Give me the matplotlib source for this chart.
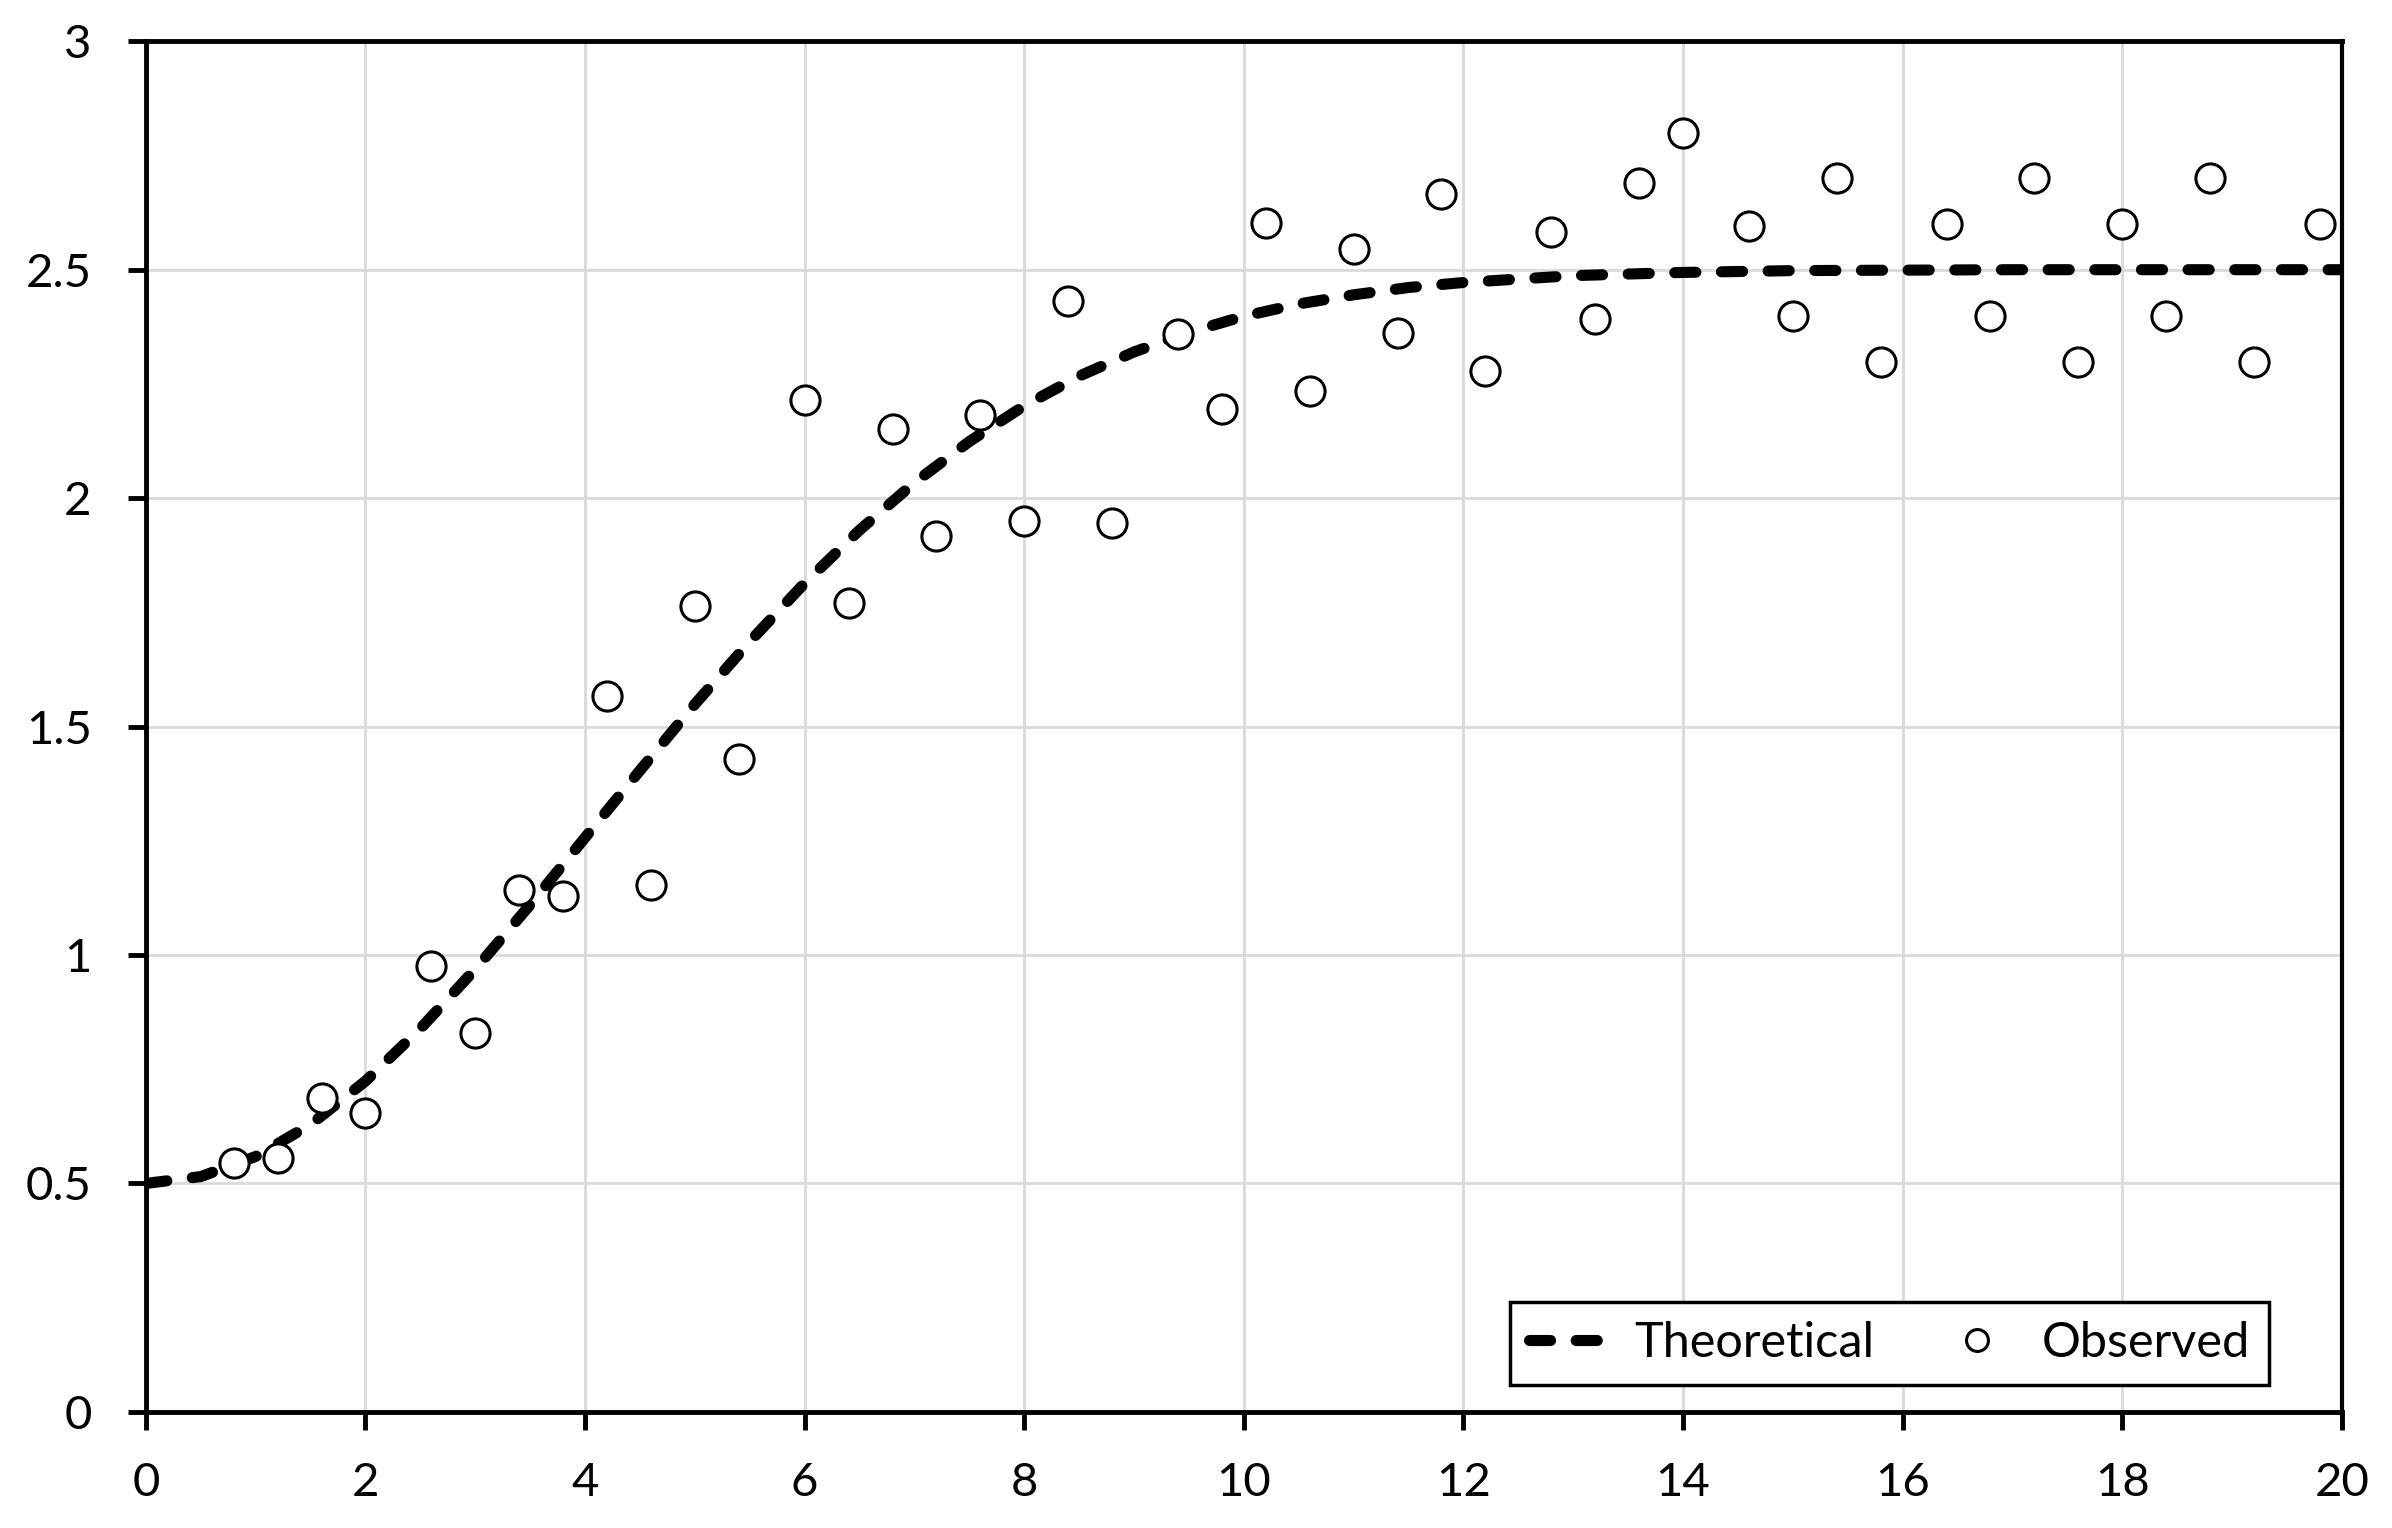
import matplotlib.pyplot as plt
from matplotlib.ticker import FuncFormatter

# observed points
obs_x = [0.8, 1.2, 1.6, 2.0, 2.6, 3.0, 3.4, 3.8, 4.2, 4.6, 5.0, 5.4, 6.0, 6.4,
         6.8, 7.2, 7.6, 8.0, 8.4, 8.8, 9.4, 9.8, 10.2, 10.6, 11.0, 11.4, 11.8,
         12.2, 12.8, 13.2, 13.6, 14.0, 14.6, 15.0, 15.4, 15.8, 16.4, 16.8, 17.2,
         17.6, 18.0, 18.4, 18.8, 19.2, 19.8]
obs_y = [0.545, 0.555, 0.688, 0.655, 0.976, 0.829, 1.143, 1.129, 1.567, 1.153,
         1.764, 1.430, 2.215, 1.771, 2.152, 1.918, 2.182, 1.951, 2.432, 1.945,
         2.359, 2.195, 2.603, 2.235, 2.546, 2.362, 2.666, 2.279, 2.583, 2.392,
         2.690, 2.800, 2.596, 2.399, 2.700, 2.299, 2.600, 2.399, 2.700, 2.299,
         2.600, 2.399, 2.700, 2.299, 2.600]

# theoretical curve
theo_x = [0, 0.5, 1, 1.5, 2, 2.5, 3, 3.5, 4, 4.5, 5, 5.5, 6, 6.5, 7, 7.5, 8,
          8.5, 9, 9.5, 10, 10.5, 11, 11.5, 12, 13, 14, 15, 16, 17, 18, 19, 20]
theo_y = [0.500, 0.515, 0.559, 0.629, 0.724, 0.839, 0.969, 1.110, 1.257, 1.404,
          1.549, 1.686, 1.814, 1.930, 2.034, 2.124, 2.202, 2.267, 2.320, 2.363,
          2.398, 2.425, 2.445, 2.461, 2.472, 2.487, 2.494, 2.498, 2.499, 2.500,
          2.500, 2.500, 2.500]

x_ticks = [0, 2, 4, 6, 8, 10, 12, 14, 16, 18, 20]
y_ticks = [0, 0.5, 1, 1.5, 2, 2.5, 3]

plt.rcParams['font.family'] = ['Lato', 'DejaVu Sans']

fig = plt.figure(figsize=(23.92, 15.28), dpi=100)
ax = fig.add_axes([0.061, 0.076, 0.918, 0.897])

ax.plot(theo_x, theo_y, color='black', linewidth=8, linestyle=(0, (1.9, 2.3)),
        dash_capstyle='round', solid_capstyle='round', label='Theoretical',
        zorder=3)
ax.plot(obs_x, obs_y, linestyle='none', marker='o', markersize=21,
        markerfacecolor='white', markeredgecolor='black', markeredgewidth=2.2,
        label='Observed', zorder=4)

ax.set_xlim(0, 20)
ax.set_ylim(0, 3)
ax.set_xticks(x_ticks)
ax.set_yticks(y_ticks)
ax.yaxis.set_major_formatter(FuncFormatter(lambda v, p: f"{v:g}"))
ax.grid(True, color='#d9d9d9', linewidth=2)
ax.set_axisbelow(True)

for side in ['left', 'bottom', 'top']:
    ax.spines[side].set_linewidth(3.5)
ax.spines['right'].set_linewidth(3)
for s in ax.spines.values():
    s.set_color('black')

ax.tick_params(axis='both', direction='out', length=13, width=3.5,
               labelsize=34, colors='black')
ax.tick_params(axis='x', pad=23)
ax.tick_params(axis='y', pad=26)

leg = ax.legend(loc='lower right', ncol=2, fontsize=35, frameon=True,
                fancybox=False, edgecolor='black', framealpha=1,
                markerscale=0.75, handlelength=1.65, handletextpad=0.5,
                columnspacing=1.3, borderpad=0.4, borderaxespad=0,
                bbox_to_anchor=(0.967, 0.0197))
leg.get_frame().set_linewidth(2.5)

fig.savefig('out.png', dpi=100)
